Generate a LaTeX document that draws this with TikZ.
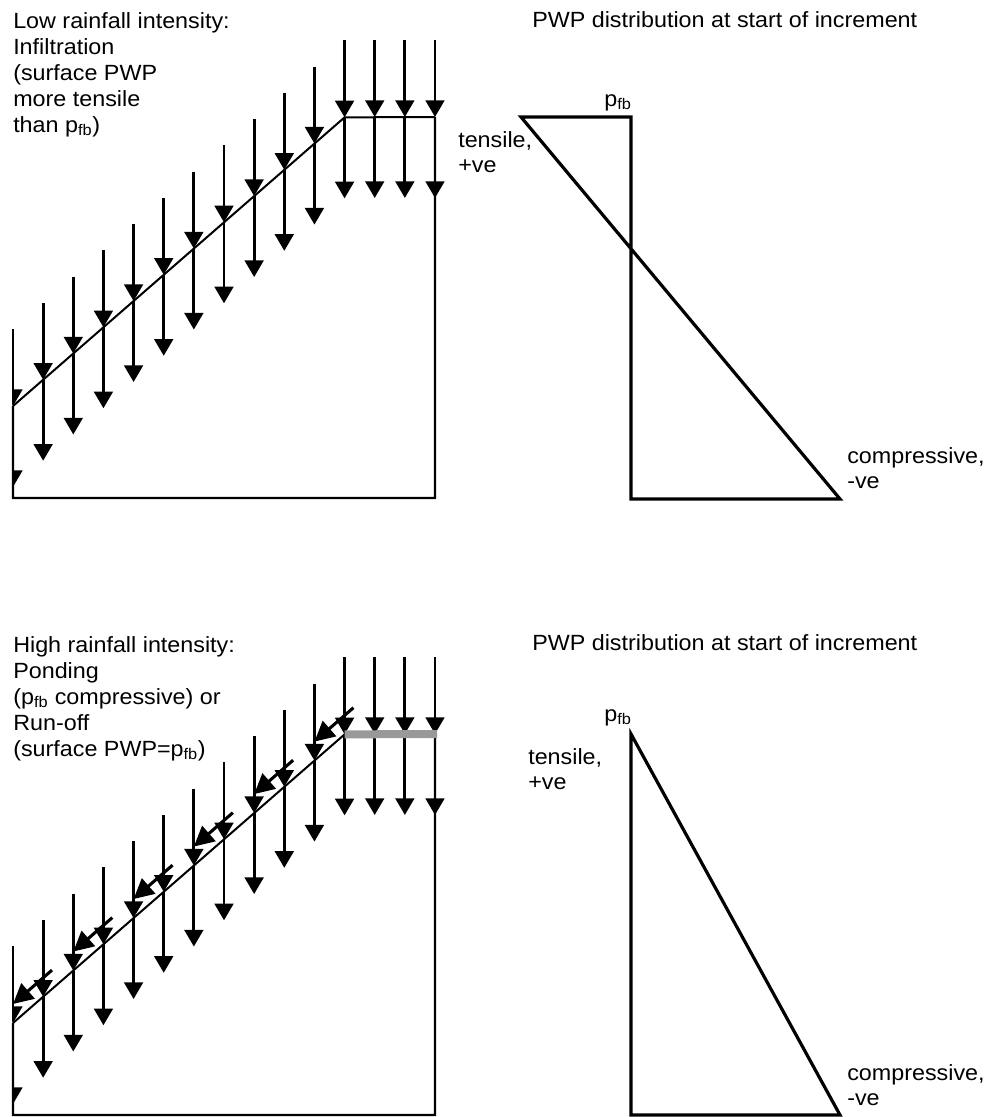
\documentclass[tikz,border=0pt]{standalone}
\usepackage{fontspec}
\newfontfamily\lab{Liberation Sans}[FakeStretch=1.06]
\usetikzlibrary{arrows.meta,calc}
\begin{document}
\begin{tikzpicture}[x=0.75pt,y=-0.75pt,
  lbl/.style={font=\lab\fontsize{16.5}{19.5}\selectfont, inner sep=0pt, anchor=base west},
  lblr/.style={lbl, anchor=base east},
  rain/.style={line width=2.1pt, -{Triangle[width=14pt,length=12.5pt]}},
  runoff/.style={line width=2.3pt, -{Triangle[width=15pt,length=15pt]}},
  ground/.style={line width=1.5pt},
  boxline/.style={line width=1.7pt},
  prof/.style={line width=2.4pt},
  pond/.style={line width=6pt, draw=black!40}]
\useasboundingbox (0,0) rectangle (986,1117);

% ---------- left panels: slope with rain ----------
\foreach \oy/\tg in {0/a,617/b} {
  \foreach \i in {0,...,14} {
    \pgfmathsetmacro\xx{13+30.143*\i}
    \pgfmathsetmacro\ys{ifthenelse(\i<12, 406-(\xx-13)*0.8705, 117)}
    \coordinate (top-\tg-\i) at (\xx, \ys-77+\oy);
    \coordinate (s-\tg-\i) at (\xx, \ys+\oy);
    \coordinate (bot-\tg-\i) at (\xx, \ys+81+\oy);
  }
  \coordinate (bl-\tg) at (13, 498+\oy);
  \coordinate (br-\tg) at (435, 498+\oy);
  \draw[boxline] (s-\tg-0) -- (bl-\tg) -- (br-\tg) -- (s-\tg-14);
  \begin{scope}
    \clip (12,0) rectangle (986,1117);
    \foreach \i in {0,...,14} {
      \draw[rain] (top-\tg-\i) -- (s-\tg-\i);
      \draw[rain] (s-\tg-\i) -- (bot-\tg-\i);
    }
  \end{scope}
}
% top: infiltration surface
\draw[ground] (s-a-0) -- (s-a-11) -- (s-a-14);
% bottom: ponding / run-off surface
\draw[ground] (s-b-0) -- (s-b-11);
\coordinate (pondend) at ($(s-b-14)+(2,0)$);
\draw[pond] (s-b-11) -- (pondend);
\foreach \i in {0,2,...,10} {
  \coordinate (rtip-\i) at ($(s-b-\i)+(0,-19)$);
  \coordinate (rst-\i) at ($(rtip-\i)+(39,-33.9)$);
  \draw[runoff] (rst-\i) -- (rtip-\i);
}

% ---------- right panels: PWP profiles ----------
\coordinate (t1) at (521,117);
\coordinate (t2) at (631,117);
\coordinate (t3) at (631,499);
\coordinate (t4) at (840,499);
\draw[prof] (t1) -- (t2) -- (t3) -- (t4) -- cycle;
\coordinate (u1) at (631,734);
\coordinate (u2) at (631,1115);
\coordinate (u3) at (840,1115);
\draw[prof] (u1) -- (u2) -- (u3) -- cycle;

% ---------- texts ----------
\node[lbl] (l1) at (13,28) {Low rainfall intensity:};
\node[lbl] (l2) at (13,54) {Infiltration};
\node[lbl] (l3) at (13,80) {(surface PWP};
\node[lbl] (l4) at (13,106) {more tensile};
\node[lbl] (l5) at (13,132) {than p\textsubscript{fb})};

\node[lbl] (h1) at (13,652) {High rainfall intensity:};
\node[lbl] (h2) at (13,678) {Ponding};
\node[lbl] (h3) at (13,704) {(p\textsubscript{fb} compressive) or};
\node[lbl] (h4) at (13,730) {Run-off};
\node[lbl] (h5) at (13,756) {(surface PWP=p\textsubscript{fb})};

\node[lbl] (ttl1) at (532,27) {PWP distribution at start of increment};
\node[lblr] (pa) at (632,106) {p\textsubscript{fb}};
\node[lbl] (tna1) at (458,147) {tensile,};
\node[lbl] (tna2) at (458,172) {+ve};
\node[lbl] (cpa1) at (847,463) {compressive,};
\node[lbl] (cpa2) at (847,488) {-ve};

\node[lbl] (ttl2) at (532,650) {PWP distribution at start of increment};
\node[lblr] (pb) at (632,721) {p\textsubscript{fb}};
\node[lbl] (tnb1) at (528,764) {tensile,};
\node[lbl] (tnb2) at (528,789) {+ve};
\node[lbl] (cpb1) at (847,1080) {compressive,};
\node[lbl] (cpb2) at (847,1105) {-ve};
\end{tikzpicture}
\end{document}
